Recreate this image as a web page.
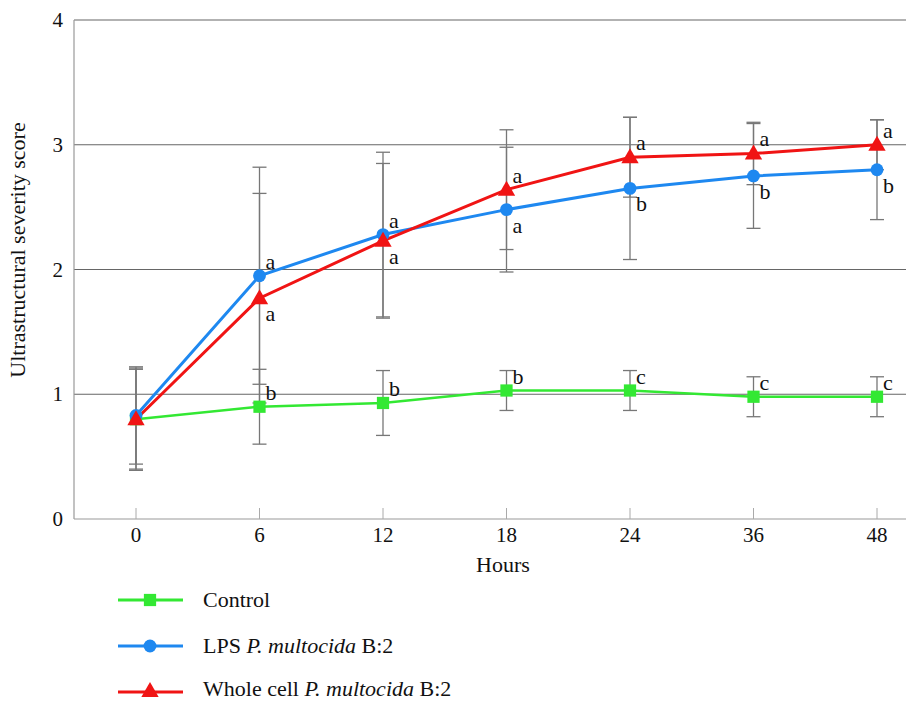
<!DOCTYPE html>
<html>
<head>
<meta charset="utf-8">
<script src="https://cdn.jsdelivr.net/npm/d3@7"></script>
<style>
  body { margin: 0; background: #fff; }
  text { font-family: 'Liberation Serif', 'Times New Roman', serif; fill: #111; }
</style>
</head>
<body>
<div id="chart"></div>
<script>
const hours = ['0', '6', '12', '18', '24', '36', '48']
const yTicks = [0, 1, 2, 3, 4]

const controlMean = [0.80, 0.90, 0.93, 1.03, 1.03, 0.98, 0.98]
const controlErr = [0.40, 0.30, 0.26, 0.16, 0.16, 0.16, 0.16]
const controlLetters = ['', 'b', 'b', 'b', 'c', 'c', 'c']

const lpsMean = [0.83, 1.95, 2.28, 2.48, 2.65, 2.75, 2.80]
const lpsErr = [0.39, 0.87, 0.66, 0.50, 0.57, 0.42, 0.40]
const lpsLetters = ['', 'a', 'a', 'a', 'b', 'b', 'b']

const wholeMean = [0.80, 1.77, 2.23, 2.64, 2.90, 2.93, 3.00]
const wholeErr = [0.41, 0.84, 0.62, 0.48, 0.32, 0.25, 0.20]
const wholeLetters = ['', 'a', 'a', 'a', 'a', 'a', 'a']

const width = 907
const height = 701
const margin = { top: 20, left: 74, right: 1, bottom: 182 }

const svg = d3
  .select('#chart')
  .append('svg')
  .attr('width', width)
  .attr('height', height)

const x = d3
  .scalePoint()
  .domain(hours)
  .range([136, 877])

const y = d3
  .scaleLinear()
  .domain([0, 4])
  .range([height - margin.bottom, margin.top])

// gridlines
svg
  .selectAll('.grid')
  .data(yTicks.filter(d => d > 0))
  .enter()
  .append('line')
  .attr('x1', margin.left)
  .attr('x2', width - margin.right)
  .attr('y1', d => y(d))
  .attr('y2', d => y(d))
  .attr('stroke', '#666')
  .attr('stroke-width', 1.2)

// axes lines
svg
  .append('line')
  .attr('x1', margin.left)
  .attr('x2', margin.left)
  .attr('y1', y(4))
  .attr('y2', y(0))
  .attr('stroke', '#999')
  .attr('stroke-width', 1.2)
svg
  .append('line')
  .attr('x1', margin.left)
  .attr('x2', width - margin.right)
  .attr('y1', y(0))
  .attr('y2', y(0))
  .attr('stroke', '#999')
  .attr('stroke-width', 1.2)

// x ticks (inward) and labels
svg
  .selectAll('.xtick')
  .data(hours)
  .enter()
  .append('line')
  .attr('x1', d => x(d))
  .attr('x2', d => x(d))
  .attr('y1', y(0))
  .attr('y2', y(0) - 11)
  .attr('stroke', '#aaa')
svg
  .selectAll('.xlabel')
  .data(hours)
  .enter()
  .append('text')
  .attr('x', d => x(d))
  .attr('y', y(0) + 23)
  .attr('text-anchor', 'middle')
  .style('font-size', '21px')
  .text(d => d)

svg
  .selectAll('.ylabel')
  .data(yTicks)
  .enter()
  .append('text')
  .attr('x', 63)
  .attr('y', d => y(d) + 7)
  .attr('text-anchor', 'end')
  .style('font-size', '21px')
  .text(d => d)

svg
  .append('text')
  .attr('transform', 'translate(25,' + 250 + ') rotate(-90)')
  .attr('text-anchor', 'middle')
  .style('font-size', '22px')
  .text('Ultrastructural severity score')

svg
  .append('text')
  .attr('x', 503)
  .attr('y', 572)
  .attr('text-anchor', 'middle')
  .style('font-size', '22px')
  .text('Hours')

const series = [
  { name: 'control', mean: controlMean, err: controlErr, letters: controlLetters, color: '#33e833', shape: d3.symbolSquare, size: 150, lw: 2.5 },
  { name: 'lps', mean: lpsMean, err: lpsErr, letters: lpsLetters, color: '#1e88f0', shape: d3.symbolCircle, size: 130, lw: 3 },
  { name: 'whole', mean: wholeMean, err: wholeErr, letters: wholeLetters, color: '#f01414', shape: d3.symbolTriangle, size: 130, lw: 3 }
]

// error bars
series.forEach(s => {
  const g = svg.append('g').attr('class', 'err-' + s.name)
  hours.forEach((h, i) => {
    const cx = x(h)
    const hi = y(s.mean[i] + s.err[i])
    const lo = y(s.mean[i] - s.err[i])
    g.append('line')
      .attr('x1', cx).attr('x2', cx)
      .attr('y1', hi).attr('y2', lo)
      .attr('stroke', '#777').attr('stroke-width', 1.3)
    ;[hi, lo].forEach(yy => {
      g.append('line')
        .attr('x1', cx - 7).attr('x2', cx + 7)
        .attr('y1', yy).attr('y2', yy)
        .attr('stroke', '#777').attr('stroke-width', 1.3)
    })
  })
})

const line = d3
  .line()
  .x((d, i) => x(hours[i]))
  .y(d => y(d))

series.forEach(s => {
  svg
    .append('path')
    .datum(s.mean)
    .attr('d', line)
    .attr('fill', 'none')
    .attr('stroke', s.color)
    .attr('stroke-width', s.lw)
})

series.forEach(s => {
  svg
    .selectAll('.pt-' + s.name)
    .data(s.mean)
    .enter()
    .append('path')
    .attr('d', d3.symbol().type(s.shape).size(s.size))
    .attr('transform', (d, i) => 'translate(' + x(hours[i]) + ',' + (y(d) + (s.name === 'whole' ? 1 : 0)) + ')')
    .attr('fill', s.color)
})

// significance letters: above or below the point
const letterPos = {
  control: ['up', 'up', 'up', 'up', 'up', 'up', 'up'],
  lps: ['up', 'up', 'up', 'down', 'down', 'down', 'down'],
  whole: ['up', 'down', 'down', 'up', 'up', 'up', 'up']
}
series.forEach(s => {
  svg
    .selectAll('.lt-' + s.name)
    .data(s.letters)
    .enter()
    .append('text')
    .attr('x', (d, i) => x(hours[i]) + 6)
    .attr('y', (d, i) => letterPos[s.name][i] === 'up' ? y(s.mean[i]) - 7 : y(s.mean[i]) + 23)
    .style('font-size', '22px')
    .text(d => d)
})

// legend
const legend = svg.append('g')
series.forEach((s, i) => {
  const ly = 600 + i * 46
  legend.append('line')
    .attr('x1', 118).attr('x2', 183)
    .attr('y1', ly).attr('y2', ly)
    .attr('stroke', s.color).attr('stroke-width', 3)
  legend.append('path')
    .attr('d', d3.symbol().type(s.shape).size(s.size))
    .attr('transform', 'translate(150,' + ly + ')')
    .attr('fill', s.color)
})
const t0 = legend.append('text').attr('x', 203).attr('y', 607).style('font-size', '22px')
t0.text('Control')
const t1 = legend.append('text').attr('x', 203).attr('y', 653).style('font-size', '22px')
t1.append('tspan').text('LPS ')
t1.append('tspan').style('font-style', 'italic').text('P. multocida')
t1.append('tspan').text(' B:2')
const t2 = legend.append('text').attr('x', 203).attr('y', 696).style('font-size', '22px')
t2.append('tspan').text('Whole cell ')
t2.append('tspan').style('font-style', 'italic').text('P. multocida')
t2.append('tspan').text(' B:2')
</script>
</body>
</html>
